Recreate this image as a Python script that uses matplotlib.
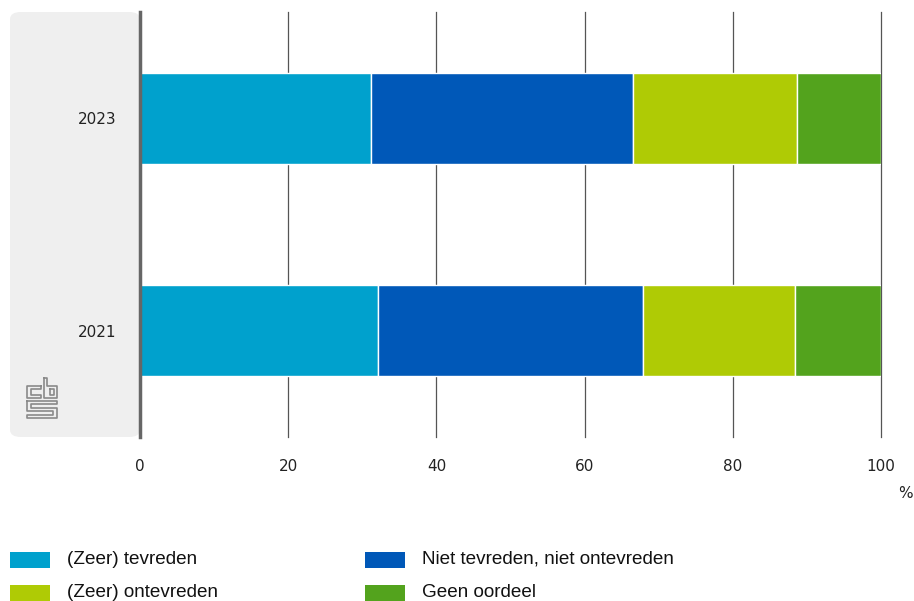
import matplotlib
matplotlib.use("Agg")
import matplotlib.pyplot as plt
from matplotlib.patches import FancyBboxPatch, Rectangle
from matplotlib.lines import Line2D

years = ["2021", "2023"]
series_names = ["(Zeer) tevreden", "Niet tevreden, niet ontevreden", "(Zeer) ontevreden", "Geen oordeel"]
tevreden = [32.1, 31.2]
neutraal = [35.8, 35.3]
ontevreden = [20.5, 22.2]
geen = [11.6, 11.3]
colors = ["#00a1cd", "#0058b8", "#afcb05", "#53a31d"]
xticks = [0, 20, 40, 60, 80, 100]

W, H = 914, 601
fig = plt.figure(figsize=(W / 100, H / 100), dpi=100)

def fx(px):
    return px / W

def fy(py):
    return 1 - py / H

# grey side panel
panel = FancyBboxPatch((fx(10), fy(437)), fx(140) - fx(10), fy(12) - fy(437),
                       boxstyle="round,pad=0,rounding_size=0.012",
                       transform=fig.transFigure, facecolor="#efefef", edgecolor="none", zorder=-5)
fig.patches.append(panel)

ax = fig.add_axes([fx(140), fy(437), fx(881) - fx(140), fy(12) - fy(437)])
ax.set_facecolor("none")
ax.set_zorder(2)

ypos = list(range(len(years)))
left = [0] * len(years)
for vals, c, name in zip([tevreden, neutraal, ontevreden, geen], colors, series_names):
    ax.barh(ypos, vals, left=left, height=0.43, color=c, edgecolor="white", linewidth=1, zorder=3, label=name)
    left = [l + v for l, v in zip(left, vals)]

ax.set_xlim(0, 100)
ax.set_ylim(-0.5, 1.5)
ax.set_xticks(xticks)
ax.set_xticklabels([str(t) for t in xticks], fontsize=11, color="#222222")
ax.set_yticks(ypos)
ax.set_yticklabels(years, fontsize=11, color="#222222")
ax.tick_params(axis="both", length=0)
ax.tick_params(axis="x", pad=16)
ax.tick_params(axis="y", pad=17)
for t in xticks[1:]:
    ax.axvline(t, color="#555555", linewidth=0.9, zorder=1, clip_on=False)
for s in ["top", "right", "bottom"]:
    ax.spines[s].set_visible(False)
ax.spines["left"].set_color("#666666")
ax.spines["left"].set_linewidth(2.5)
ax.spines["left"].set_zorder(4)

fig.text(fx(905), fy(494), "%", fontsize=11, color="#222222", ha="center", va="center")

# CBS-like logo
lc = "#8a8a8a"
lw = 1.2
def pl(xs, ys):
    fig.add_artist(Line2D([fx(x) for x in xs], [fy(y) for y in ys], color=lc, linewidth=lw,
                          transform=fig.transFigure, zorder=1))
# "c"
pl([41, 27, 27, 41, 41, 31, 31, 41, 41], [386, 386, 398, 398, 395, 395, 389, 389, 386])
# "b"
pl([44, 44, 57, 57, 47, 47, 44], [378, 398, 398, 386, 386, 378, 378])
pl([50, 54, 54, 50, 50], [389, 389, 395, 395, 389])
# "s"
pl([27, 57, 57, 31, 31, 57, 57, 27, 27, 53, 53, 27, 27],
   [401, 401, 404, 404, 408, 408, 418, 418, 415, 415, 411, 411, 401])

# legend
fam = ["Liberation Sans", "DejaVu Sans"]
leg = [(10, 552, 0), (365, 552, 1), (10, 585, 2), (365, 585, 3)]
for x0, y0, i in leg:
    fig.patches.append(Rectangle((fx(x0), fy(y0 + 16)), fx(40), 16 / H, transform=fig.transFigure,
                                 facecolor=colors[i], edgecolor="none"))
    fig.text(fx(x0 + 57), fy(y0 + 12), series_names[i], fontsize=13.6, family=fam,
             color="#111111", ha="left", va="baseline")

fig.savefig("out.png", dpi=100)
